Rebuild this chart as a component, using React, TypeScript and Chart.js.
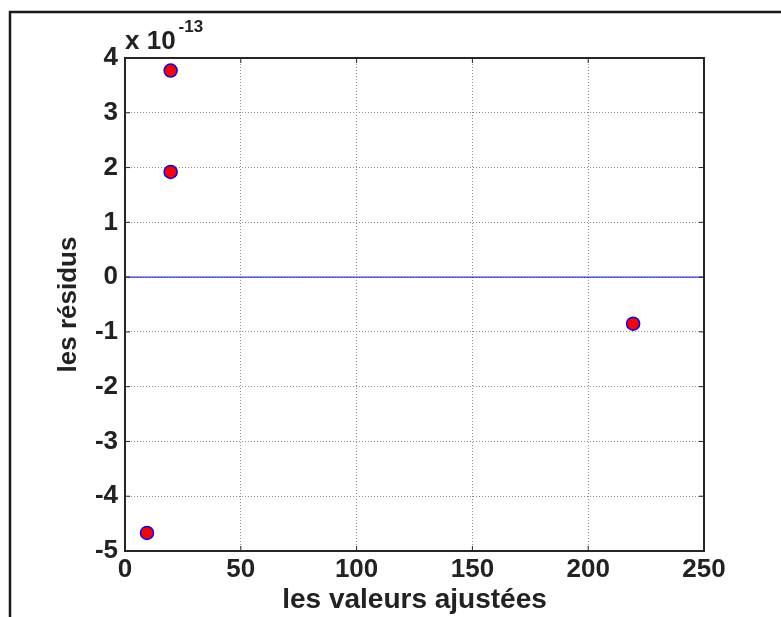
import { useEffect, useRef } from "react";
import { Chart, registerables } from "chart.js";

Chart.register(...registerables);

// Fitted values (x) and residuals (y, in units of 10^-13)
const fittedValues = [19.7, 19.7, 219.4, 9.5];
const residuals = [3.77, 1.92, -0.85, -4.67];
const zeroLineX = [0, 250];
const zeroLineY = [0, 0];
const xTicks = [0, 50, 100, 150, 200, 250];
const yTicks = [-5, -4, -3, -2, -1, 0, 1, 2, 3, 4];
const exponentBase = "x 10";
const exponentPower = "-13";
const xTitle = "les valeurs ajustées";
const yTitle = "les résidus";

const FONT = "'Liberation Sans', Arial, Helvetica, sans-serif";
const INK = "#222222";

const matlabPlugin = {
  id: "matlabFrame",
  afterDraw(chart: any) {
    const { ctx, chartArea: a, scales } = chart;
    const xs = scales.x;
    const ys = scales.y;
    ctx.save();
    // inner tick marks (MATLAB style, mirrored)
    ctx.strokeStyle = "#262626";
    ctx.lineWidth = 1;
    ctx.beginPath();
    for (const t of xTicks) {
      const px = xs.getPixelForValue(t);
      ctx.moveTo(px, a.bottom);
      ctx.lineTo(px, a.bottom - 5);
      ctx.moveTo(px, a.top);
      ctx.lineTo(px, a.top + 5);
    }
    for (const t of yTicks) {
      const py = ys.getPixelForValue(t);
      ctx.moveTo(a.left, py);
      ctx.lineTo(a.left + 5, py);
      ctx.moveTo(a.right, py);
      ctx.lineTo(a.right - 5, py);
    }
    ctx.stroke();
    // axes box
    ctx.lineWidth = 2;
    ctx.strokeStyle = "#262626";
    ctx.strokeRect(a.left, a.top, a.right - a.left, a.bottom - a.top);
    // figure frame (left + top)
    ctx.strokeStyle = "#1a1a1a";
    ctx.lineWidth = 2.5;
    ctx.beginPath();
    ctx.moveTo(10, chart.height);
    ctx.lineTo(10, 12);
    ctx.lineTo(chart.width, 12);
    ctx.stroke();
    // exponent label
    ctx.fillStyle = INK;
    ctx.textAlign = "left";
    ctx.textBaseline = "alphabetic";
    ctx.font = `bold 26px ${FONT}`;
    ctx.fillText(exponentBase, a.left, a.top - 9);
    const w = ctx.measureText(exponentBase).width;
    ctx.font = `bold 17px ${FONT}`;
    ctx.fillText(exponentPower, a.left + w + 3, a.top - 26);
    ctx.restore();
  },
};

export default function App() {
  const ref = useRef<HTMLCanvasElement | null>(null);

  useEffect(() => {
    if (!ref.current) return;
    const chart = new Chart(ref.current, {
      type: "scatter",
      data: {
        datasets: [
          {
            label: "résidus",
            data: fittedValues.map((x, i) => ({ x, y: residuals[i] })),
            backgroundColor: "#ff0000",
            borderColor: "#0000ff",
            pointRadius: 6.5,
            pointBorderWidth: 1.5,
            pointHoverRadius: 6.5,
          },
          {
            label: "zéro",
            data: zeroLineX.map((x, i) => ({ x, y: zeroLineY[i] })),
            showLine: true,
            borderColor: "#0000ff",
            borderWidth: 1,
            pointRadius: 0,
            fill: false,
          },
        ],
      },
      options: {
        responsive: false,
        animation: false,
        layout: { padding: { left: 0, right: 77, top: 58, bottom: 0 } },
        plugins: {
          legend: { display: false },
          tooltip: { enabled: false },
        },
        scales: {
          x: {
            type: "linear",
            position: "bottom",
            min: xTicks[0],
            max: xTicks[xTicks.length - 1],
            ticks: {
              stepSize: xTicks[1] - xTicks[0],
              padding: 3,
              color: INK,
              autoSkip: false,
              maxRotation: 0,
              font: { family: FONT, size: 26, weight: "bold" },
            },
            grid: { color: "#8c8c8c", lineWidth: 1, drawTicks: false },
            border: { display: false, dash: [1, 2] },
            title: {
              display: true,
              text: xTitle,
              color: INK,
              font: { family: FONT, size: 28, weight: "bold" },
              padding: { top: 0, bottom: 0 },
            },
            afterFit(s: any) {
              s.height = 66;
            },
          },
          y: {
            type: "linear",
            min: yTicks[0],
            max: yTicks[yTicks.length - 1],
            ticks: {
              stepSize: yTicks[1] - yTicks[0],
              padding: 7,
              color: INK,
              autoSkip: false,
              font: { family: FONT, size: 26, weight: "bold" },
            },
            grid: { color: "#8c8c8c", lineWidth: 1, drawTicks: false },
            border: { display: false, dash: [1, 2] },
            title: {
              display: true,
              text: yTitle,
              color: INK,
              font: { family: FONT, size: 26, weight: "bold" },
              padding: { top: 53, bottom: 0 },
            },
            afterFit(s: any) {
              s.width = 125;
            },
          },
        },
      } as any,
      plugins: [matlabPlugin],
    });
    return () => chart.destroy();
  }, []);

  return (
    <div style={{ position: "absolute", left: 0, top: 0, width: 781, height: 617, background: "#ffffff" }}>
      <canvas ref={ref} width={781} height={617} style={{ display: "block" }} />
    </div>
  );
}
